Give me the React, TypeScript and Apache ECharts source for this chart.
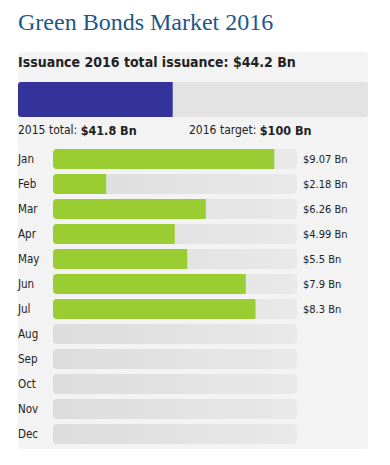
import React, { useEffect, useRef } from "react";
import * as echarts from "echarts";

const months = ["Jan", "Feb", "Mar", "Apr", "May", "Jun", "Jul", "Aug", "Sep", "Oct", "Nov", "Dec"];
const monthly = [9.07, 2.18, 6.26, 4.99, 5.5, 7.9, 8.3, null, null, null, null, null];
const monthLabels = ["$9.07 Bn", "$2.18 Bn", "$6.26 Bn", "$4.99 Bn", "$5.5 Bn", "$7.9 Bn", "$8.3 Bn", "", "", "", "", ""];
const monthMax = [10];
const totals = [44.2];
const total2015 = ["$41.8 Bn"];
const target2016 = [100];
const totalLabel = ["$44.2 Bn"];

const FONT = "'DejaVu Sans Condensed', Tahoma, 'DejaVu Sans', sans-serif";

export default function App() {
  const ref = useRef<HTMLDivElement>(null);
  useEffect(() => {
    const chart = echarts.init(ref.current!, null, { renderer: "svg" });
    const bgGrad = new echarts.graphic.LinearGradient(0, 0, 1, 0, [
      { offset: 0, color: "#dcdcdc" },
      { offset: 1, color: "#e9e9e9" },
    ]);
    chart.setOption({
      animation: false,
      backgroundColor: "#ffffff",
      graphic: [
        {
          type: "text",
          left: 18,
          top: 10,
          style: { text: "Green Bonds Market 2016", font: "24px 'Liberation Serif', 'Times New Roman', serif", fill: "#1b5789" },
        },
        {
          type: "rect",
          shape: { x: 18, y: 52, width: 350, height: 397, r: 4 },
          style: { fill: "#f3f3f3" },
          z: -10,
        },
        {
          type: "text",
          x: 18,
          y: 62,
          style: {
            text: "Issuance 2016 total issuance: " + totalLabel[0],
            font: "bold 14px " + FONT,
            fill: "#222",
            verticalAlign: "middle",
          },
        },
        {
          type: "text",
          x: 18,
          y: 130,
          style: {
            text: "{n|2015 total: }{b|" + total2015[0] + "}",
            verticalAlign: "middle",
            rich: {
              n: { font: "12px " + FONT, fill: "#222" },
              b: { font: "bold 12.5px " + FONT, fill: "#222" },
            },
          },
        },
        {
          type: "text",
          x: 189,
          y: 130,
          style: {
            text: "{n|2016 target: }{b|$" + target2016[0] + " Bn}",
            verticalAlign: "middle",
            rich: {
              n: { font: "12px " + FONT, fill: "#222" },
              b: { font: "bold 12.5px " + FONT, fill: "#222" },
            },
          },
        },
      ],
      grid: [
        { left: 18, right: 22, top: 82, height: 35 },
        { left: 53, right: 93, top: 146.5, height: 300 },
      ],
      xAxis: [
        { gridIndex: 0, type: "value", min: 0, max: target2016[0], show: false },
        { gridIndex: 1, type: "value", min: 0, max: monthMax[0], show: false },
      ],
      yAxis: [
        { gridIndex: 0, type: "category", data: ["total"], show: false },
        {
          gridIndex: 1,
          type: "category",
          data: months,
          inverse: true,
          axisLine: { show: false },
          axisTick: { show: false },
          axisLabel: { align: "left", margin: 35, fontFamily: FONT, fontSize: 11.5, color: "#222" },
        },
        {
          gridIndex: 1,
          type: "category",
          position: "right",
          data: monthLabels,
          inverse: true,
          axisLine: { show: false },
          axisTick: { show: false },
          axisLabel: { align: "left", margin: 6, fontFamily: FONT, fontSize: 11, color: "#222" },
        },
      ],
      series: [
        {
          type: "bar",
          xAxisIndex: 0,
          yAxisIndex: 0,
          data: totals,
          barWidth: 35,
          itemStyle: { color: "#333399", borderRadius: [3, 0, 0, 3] },
          showBackground: true,
          backgroundStyle: { color: "#e3e3e3", borderRadius: 3 },
        },
        {
          type: "bar",
          xAxisIndex: 1,
          yAxisIndex: 1,
          data: monthly,
          barWidth: 20,
          itemStyle: { color: "#9acd32", borderRadius: [4, 0, 0, 4] },
          showBackground: true,
          backgroundStyle: { color: bgGrad, borderRadius: 4 },
        },
      ],
    });
    return () => chart.dispose();
  }, []);
  return <div ref={ref} style={{ position: "fixed", left: 0, top: 0, width: 390, height: 465 }} />;
}
